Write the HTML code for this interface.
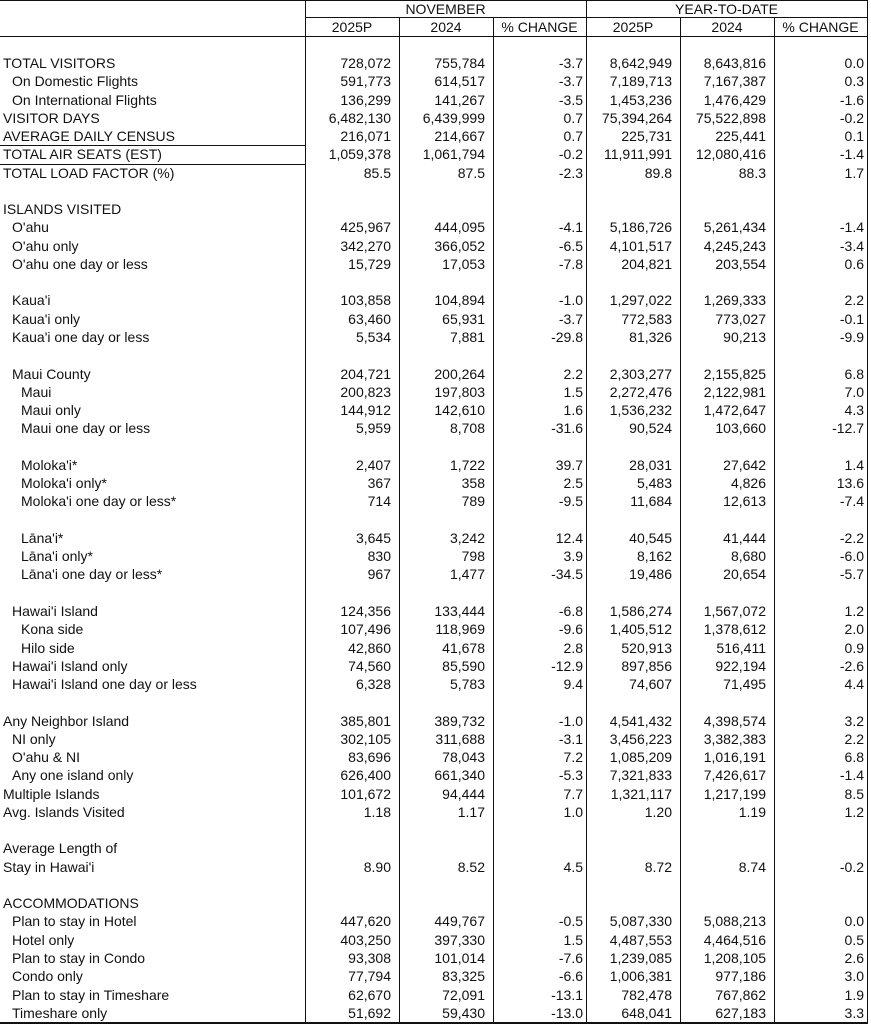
<!DOCTYPE html>
<html><head><meta charset="utf-8"><style>
body{margin:0;background:#fff;width:871px;height:1024px;overflow:hidden;position:relative;font-family:"Liberation Sans",sans-serif;font-size:14px;color:#111}
.l{position:absolute;background:#111}
.h{position:absolute;text-align:center;height:18px;line-height:18px}
#rows{position:absolute;left:0;top:54px;width:867px}
.r{height:18.27px;line-height:18.27px;display:grid;grid-template-columns:305px 94px 94px 93px 94px 94px 93px;white-space:nowrap}
.r span{text-align:right;padding-right:8px}
.r span:nth-child(4),.r span:nth-child(7){padding-right:3px}
.r span:first-child{text-align:left;padding:0 0 0 3px}
.i1 span:first-child{padding-left:12px}
.i2 span:first-child{padding-left:21px}
</style></head><body>
<div class="l" style="left:0;top:0;width:868px;height:1px"></div>
<div class="l" style="left:305px;top:17px;width:563px;height:1px"></div>
<div class="l" style="left:0;top:36px;width:868px;height:1px"></div>
<div class="l" style="left:0;top:145px;width:305px;height:1px"></div>
<div class="l" style="left:0;top:164px;width:305px;height:1px"></div>
<div class="l" style="left:0;top:1022px;width:868px;height:2px"></div>
<div class="l" style="left:305px;top:0;width:1px;height:1024px"></div>
<div class="l" style="left:399px;top:17px;width:1px;height:1007px"></div>
<div class="l" style="left:493px;top:17px;width:1px;height:1007px"></div>
<div class="l" style="left:586px;top:0;width:1px;height:1024px"></div>
<div class="l" style="left:680px;top:17px;width:1px;height:1007px"></div>
<div class="l" style="left:774px;top:17px;width:1px;height:1007px"></div>
<div class="l" style="left:867px;top:0;width:1px;height:1024px"></div>
<div class="h" style="left:305px;top:0;width:281px">NOVEMBER</div>
<div class="h" style="left:586px;top:0;width:281px">YEAR-TO-DATE</div>
<div class="h" style="left:305px;top:18px;width:94px">2025P</div>
<div class="h" style="left:399px;top:18px;width:94px">2024</div>
<div class="h" style="left:493px;top:18px;width:93px">% CHANGE</div>
<div class="h" style="left:586px;top:18px;width:94px">2025P</div>
<div class="h" style="left:680px;top:18px;width:94px">2024</div>
<div class="h" style="left:774px;top:18px;width:93px">% CHANGE</div>
<div id="rows">
<div class="r"><span>TOTAL VISITORS</span><span>728,072</span><span>755,784</span><span>-3.7</span><span>8,642,949</span><span>8,643,816</span><span>0.0</span></div>
<div class="r i1"><span>On Domestic Flights</span><span>591,773</span><span>614,517</span><span>-3.7</span><span>7,189,713</span><span>7,167,387</span><span>0.3</span></div>
<div class="r i1"><span>On International Flights</span><span>136,299</span><span>141,267</span><span>-3.5</span><span>1,453,236</span><span>1,476,429</span><span>-1.6</span></div>
<div class="r"><span>VISITOR DAYS</span><span>6,482,130</span><span>6,439,999</span><span>0.7</span><span>75,394,264</span><span>75,522,898</span><span>-0.2</span></div>
<div class="r"><span>AVERAGE DAILY CENSUS</span><span>216,071</span><span>214,667</span><span>0.7</span><span>225,731</span><span>225,441</span><span>0.1</span></div>
<div class="r"><span>TOTAL AIR SEATS (EST)</span><span>1,059,378</span><span>1,061,794</span><span>-0.2</span><span>11,911,991</span><span>12,080,416</span><span>-1.4</span></div>
<div class="r"><span>TOTAL LOAD FACTOR (%)</span><span>85.5</span><span>87.5</span><span>-2.3</span><span>89.8</span><span>88.3</span><span>1.7</span></div>
<div class="r"></div>
<div class="r"><span>ISLANDS VISITED</span></div>
<div class="r i1"><span>O'ahu</span><span>425,967</span><span>444,095</span><span>-4.1</span><span>5,186,726</span><span>5,261,434</span><span>-1.4</span></div>
<div class="r i1"><span>O'ahu only</span><span>342,270</span><span>366,052</span><span>-6.5</span><span>4,101,517</span><span>4,245,243</span><span>-3.4</span></div>
<div class="r i1"><span>O'ahu one day or less</span><span>15,729</span><span>17,053</span><span>-7.8</span><span>204,821</span><span>203,554</span><span>0.6</span></div>
<div class="r"></div>
<div class="r i1"><span>Kaua'i</span><span>103,858</span><span>104,894</span><span>-1.0</span><span>1,297,022</span><span>1,269,333</span><span>2.2</span></div>
<div class="r i1"><span>Kaua'i only</span><span>63,460</span><span>65,931</span><span>-3.7</span><span>772,583</span><span>773,027</span><span>-0.1</span></div>
<div class="r i1"><span>Kaua'i one day or less</span><span>5,534</span><span>7,881</span><span>-29.8</span><span>81,326</span><span>90,213</span><span>-9.9</span></div>
<div class="r"></div>
<div class="r i1"><span>Maui County</span><span>204,721</span><span>200,264</span><span>2.2</span><span>2,303,277</span><span>2,155,825</span><span>6.8</span></div>
<div class="r i2"><span>Maui</span><span>200,823</span><span>197,803</span><span>1.5</span><span>2,272,476</span><span>2,122,981</span><span>7.0</span></div>
<div class="r i2"><span>Maui only</span><span>144,912</span><span>142,610</span><span>1.6</span><span>1,536,232</span><span>1,472,647</span><span>4.3</span></div>
<div class="r i2"><span>Maui one day or less</span><span>5,959</span><span>8,708</span><span>-31.6</span><span>90,524</span><span>103,660</span><span>-12.7</span></div>
<div class="r"></div>
<div class="r i2"><span>Moloka'i*</span><span>2,407</span><span>1,722</span><span>39.7</span><span>28,031</span><span>27,642</span><span>1.4</span></div>
<div class="r i2"><span>Moloka'i only*</span><span>367</span><span>358</span><span>2.5</span><span>5,483</span><span>4,826</span><span>13.6</span></div>
<div class="r i2"><span>Moloka'i one day or less*</span><span>714</span><span>789</span><span>-9.5</span><span>11,684</span><span>12,613</span><span>-7.4</span></div>
<div class="r"></div>
<div class="r i2"><span>Lāna'i*</span><span>3,645</span><span>3,242</span><span>12.4</span><span>40,545</span><span>41,444</span><span>-2.2</span></div>
<div class="r i2"><span>Lāna'i only*</span><span>830</span><span>798</span><span>3.9</span><span>8,162</span><span>8,680</span><span>-6.0</span></div>
<div class="r i2"><span>Lāna'i one day or less*</span><span>967</span><span>1,477</span><span>-34.5</span><span>19,486</span><span>20,654</span><span>-5.7</span></div>
<div class="r"></div>
<div class="r i1"><span>Hawai'i Island</span><span>124,356</span><span>133,444</span><span>-6.8</span><span>1,586,274</span><span>1,567,072</span><span>1.2</span></div>
<div class="r i2"><span>Kona side</span><span>107,496</span><span>118,969</span><span>-9.6</span><span>1,405,512</span><span>1,378,612</span><span>2.0</span></div>
<div class="r i2"><span>Hilo side</span><span>42,860</span><span>41,678</span><span>2.8</span><span>520,913</span><span>516,411</span><span>0.9</span></div>
<div class="r i1"><span>Hawai'i Island only</span><span>74,560</span><span>85,590</span><span>-12.9</span><span>897,856</span><span>922,194</span><span>-2.6</span></div>
<div class="r i1"><span>Hawai'i Island one day or less</span><span>6,328</span><span>5,783</span><span>9.4</span><span>74,607</span><span>71,495</span><span>4.4</span></div>
<div class="r"></div>
<div class="r"><span>Any Neighbor Island</span><span>385,801</span><span>389,732</span><span>-1.0</span><span>4,541,432</span><span>4,398,574</span><span>3.2</span></div>
<div class="r i1"><span>NI only</span><span>302,105</span><span>311,688</span><span>-3.1</span><span>3,456,223</span><span>3,382,383</span><span>2.2</span></div>
<div class="r i1"><span>O'ahu &amp; NI</span><span>83,696</span><span>78,043</span><span>7.2</span><span>1,085,209</span><span>1,016,191</span><span>6.8</span></div>
<div class="r i1"><span>Any one island only</span><span>626,400</span><span>661,340</span><span>-5.3</span><span>7,321,833</span><span>7,426,617</span><span>-1.4</span></div>
<div class="r"><span>Multiple Islands</span><span>101,672</span><span>94,444</span><span>7.7</span><span>1,321,117</span><span>1,217,199</span><span>8.5</span></div>
<div class="r"><span>Avg. Islands Visited</span><span>1.18</span><span>1.17</span><span>1.0</span><span>1.20</span><span>1.19</span><span>1.2</span></div>
<div class="r"></div>
<div class="r"><span>Average Length of</span></div>
<div class="r"><span>Stay in Hawai'i</span><span>8.90</span><span>8.52</span><span>4.5</span><span>8.72</span><span>8.74</span><span>-0.2</span></div>
<div class="r"></div>
<div class="r"><span>ACCOMMODATIONS</span></div>
<div class="r i1"><span>Plan to stay in Hotel</span><span>447,620</span><span>449,767</span><span>-0.5</span><span>5,087,330</span><span>5,088,213</span><span>0.0</span></div>
<div class="r i1"><span>Hotel only</span><span>403,250</span><span>397,330</span><span>1.5</span><span>4,487,553</span><span>4,464,516</span><span>0.5</span></div>
<div class="r i1"><span>Plan to stay in Condo</span><span>93,308</span><span>101,014</span><span>-7.6</span><span>1,239,085</span><span>1,208,105</span><span>2.6</span></div>
<div class="r i1"><span>Condo only</span><span>77,794</span><span>83,325</span><span>-6.6</span><span>1,006,381</span><span>977,186</span><span>3.0</span></div>
<div class="r i1"><span>Plan to stay in Timeshare</span><span>62,670</span><span>72,091</span><span>-13.1</span><span>782,478</span><span>767,862</span><span>1.9</span></div>
<div class="r i1"><span>Timeshare only</span><span>51,692</span><span>59,430</span><span>-13.0</span><span>648,041</span><span>627,183</span><span>3.3</span></div>
</div>
</body></html>
